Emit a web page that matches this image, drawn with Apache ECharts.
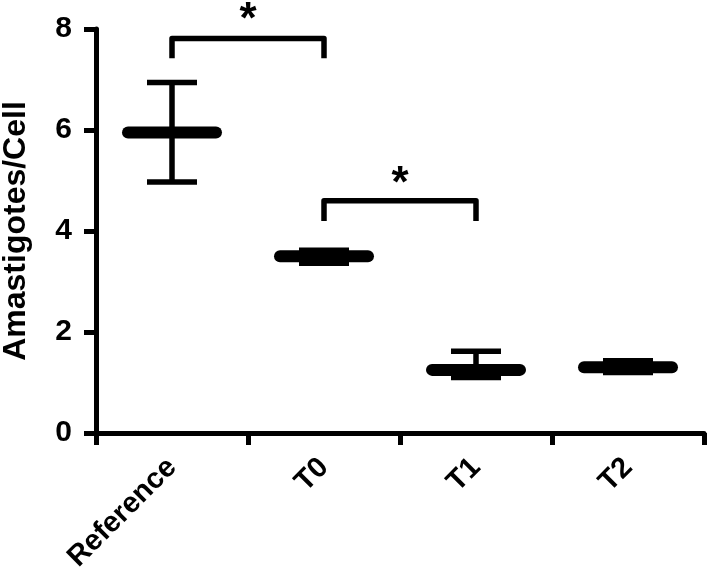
<!DOCTYPE html>
<html>
<head>
<meta charset="utf-8">
<script src="https://cdn.jsdelivr.net/npm/echarts@6/dist/echarts.min.js"></script>
<style>
  html, body { margin: 0; padding: 0; background: #fff; }
  #chart { width: 708px; height: 578px; }
</style>
</head>
<body>
<div id="chart"></div>
<script>
// groups and summary values (mean with error bar limits)
const categories = ['Reference', 'T0', 'T1', 'T2'];
const means = [5.95, 3.50, 1.25, 1.30];
const errUpper = [6.94, 3.62, 1.62, 1.43];
const errLower = [4.97, 3.36, 1.10, 1.20];

// significance brackets: from group, to group, bar height, leg bottom, star height
const bracketFrom = [0, 1];
const bracketTo = [1, 2];
const bracketTop = [7.81, 4.60];
const bracketLeg = [7.42, 4.20];
const starY = [8.36, 5.11];

const yTicks = [0, 2, 4, 6, 8];

const FONT = '"Liberation Sans", Arial, sans-serif';

const chart = echarts.init(document.getElementById('chart'), null, { renderer: 'canvas' });

const option = {
  backgroundColor: '#fff',
  animation: false,
  grid: { left: 96, right: 4, top: 29, bottom: 145, outerBoundsMode: 'none', containLabel: false },
  xAxis: {
    type: 'category',
    data: categories,
    axisLine: { lineStyle: { color: '#000', width: 5 } },
    axisTick: { show: true, length: 12, lineStyle: { color: '#000', width: 5 } },
    axisLabel: {
      rotate: 45, margin: 30, color: '#000',
      fontSize: 29, fontWeight: 'bold', fontFamily: FONT
    },
    splitLine: { show: false }
  },
  yAxis: {
    type: 'value',
    min: 0, max: 8, interval: 2,
    name: 'Amastigotes/Cell',
    nameLocation: 'middle',
    nameGap: 64,
    nameTextStyle: { color: '#000', fontSize: 32, fontWeight: 'bold', fontFamily: FONT },
    axisLine: { show: true, lineStyle: { color: '#000', width: 5 } },
    axisTick: { show: true, length: 12, lineStyle: { color: '#000', width: 5 } },
    axisLabel: {
      margin: 24, color: '#000',
      fontSize: 30, fontWeight: 'bold', fontFamily: FONT,
      formatter: v => (yTicks.indexOf(v) >= 0 ? String(v) : '')
    },
    splitLine: { show: false }
  },
  series: [
    {
      // mean line with error bar
      type: 'custom',
      data: categories.map((c, i) => [i, means[i], errLower[i], errUpper[i]]),
      renderItem: function (params, api) {
        const i = api.value(0);
        const mid = api.coord([i, api.value(1)]);
        const lo = api.coord([i, api.value(2)]);
        const hi = api.coord([i, api.value(3)]);
        const x = mid[0];
        const capHalf = 25;
        const meanHalf = 44;
        const ls = { stroke: '#000', lineWidth: 5.5, fill: null };
        return {
          type: 'group',
          children: [
            { type: 'line', shape: { x1: x, y1: hi[1], x2: x, y2: lo[1] }, style: ls },
            { type: 'line', shape: { x1: x - capHalf, y1: hi[1], x2: x + capHalf, y2: hi[1] }, style: ls },
            { type: 'line', shape: { x1: x - capHalf, y1: lo[1], x2: x + capHalf, y2: lo[1] }, style: ls },
            {
              type: 'line',
              shape: { x1: x - meanHalf, y1: mid[1], x2: x + meanHalf, y2: mid[1] },
              style: { stroke: '#000', lineWidth: 12, lineCap: 'round' }
            }
          ]
        };
      },
      encode: { x: 0, y: 1 },
      z: 3
    },
    {
      // significance brackets with asterisks
      type: 'custom',
      clip: false,
      data: bracketFrom.map((f, i) => [f, bracketTo[i], bracketTop[i], bracketLeg[i], starY[i]]),
      renderItem: function (params, api) {
        const a = api.coord([api.value(0), api.value(2)]);
        const b = api.coord([api.value(1), api.value(2)]);
        const legY = api.coord([api.value(0), api.value(3)])[1];
        const starPos = api.coord([(api.value(0) + api.value(1)) / 2, api.value(4)]);
        return {
          type: 'group',
          children: [
            {
              type: 'polyline',
              shape: { points: [[a[0], legY], [a[0], a[1]], [b[0], b[1]], [b[0], legY]] },
              style: { stroke: '#000', lineWidth: 5.5, fill: null, lineJoin: 'round' }
            },
            {
              type: 'text',
              style: {
                text: '*', x: (a[0] + b[0]) / 2, y: starPos[1] + 10,
                font: 'bold 44px ' + FONT, fill: '#000',
                align: 'center', verticalAlign: 'middle'
              }
            }
          ]
        };
      },
      encode: { x: 0, y: 2 },
      z: 4
    }
  ]
};

chart.setOption(option);
</script>
</body>
</html>
